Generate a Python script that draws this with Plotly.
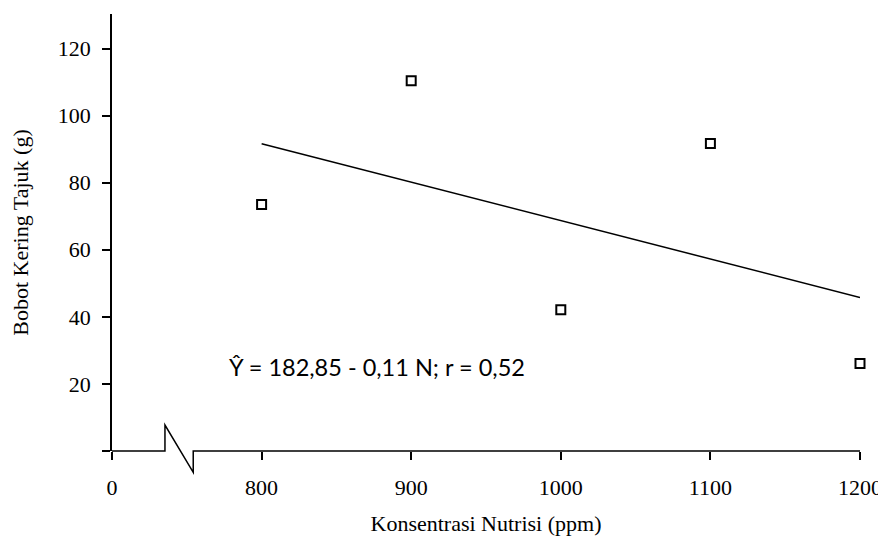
import plotly.graph_objects as go

# Data
konsentrasi = [800, 900, 1000, 1100, 1200]          # ppm
bobot_kering = [73.5, 110.4, 42.1, 91.7, 26.1]      # g
trend_x = [800, 1200]
trend_y = [91.6, 45.8]

x_tick_vals = [700, 800, 900, 1000, 1100, 1200]     # 700 stands in for the broken "0"
x_tick_text = ["0", "800", "900", "1000", "1100", "1200"]
y_tick_vals = [0, 20, 40, 60, 80, 100, 120]
y_tick_text = ["", "20", "40", "60", "80", "100", "120"]

X_MIN, X_MAX = 700, 1200
Y_MIN, Y_MAX = 0, 130.3
break_x = [735.4, 754.3]   # where the axis-break zigzag sits (axis units)

equation = "Ŷ = 182,85 - 0,11 N; r = 0,52"

serif = "Liberation Serif, Times New Roman, serif"

fig = go.Figure()
fig.add_trace(go.Scatter(
    x=trend_x, y=trend_y, mode="lines",
    line=dict(color="black", width=1.5),
    showlegend=False, hoverinfo="skip", cliponaxis=False,
))
fig.add_trace(go.Scatter(
    x=konsentrasi, y=bobot_kering, mode="markers",
    marker=dict(symbol="square", size=9, color="white",
                line=dict(color="black", width=2)),
    showlegend=False, cliponaxis=False,
))

def px(v):
    return (v - X_MIN) / (X_MAX - X_MIN)

# x axis line with break symbol (paper coordinates)
b0, b1 = px(break_x[0]), px(break_x[1])
path = (f"M 0,0 L {b0},0 L {b0},0.0595 L {b1},-0.0487 L {b1},0 L 1,0")
fig.add_shape(type="path", path=path, xref="paper", yref="paper",
              line=dict(color="black", width=1.5))

fig.add_annotation(
    x=877, y=25.1, xref="x", yref="y", text=equation, showarrow=False,
    font=dict(family="Lato, Open Sans, sans-serif", size=23.5, color="black"),
    xanchor="center", yanchor="middle",
)

# the page body adds an 8px offset, so the figure is 8px smaller and margins shifted
fig.update_layout(
    width=878, height=534,
    margin=dict(l=104, r=26, t=6, b=91),
    paper_bgcolor="white", plot_bgcolor="white",
    font=dict(family=serif, size=22, color="black"),
)
fig.update_xaxes(
    range=[X_MIN, X_MAX], tickvals=x_tick_vals, ticktext=x_tick_text,
    showline=False, showgrid=False, zeroline=False, automargin=False,
    ticks="outside", ticklen=8, tickwidth=1.5, tickcolor="black",
    ticklabelstandoff=9,
    title=dict(text="Konsentrasi Nutrisi (ppm)", font=dict(family=serif, size=22), standoff=16),
)
fig.update_yaxes(
    range=[Y_MIN, Y_MAX], tickvals=y_tick_vals, ticktext=y_tick_text,
    showline=True, linecolor="black", linewidth=1.5,
    showgrid=False, zeroline=False, automargin=False,
    ticks="outside", ticklen=8, tickwidth=1.5, tickcolor="black",
    ticklabelstandoff=7,
    title=dict(text="Bobot Kering Tajuk (g)", font=dict(family=serif, size=22), standoff=27),
)

fig.write_html("out.html")
